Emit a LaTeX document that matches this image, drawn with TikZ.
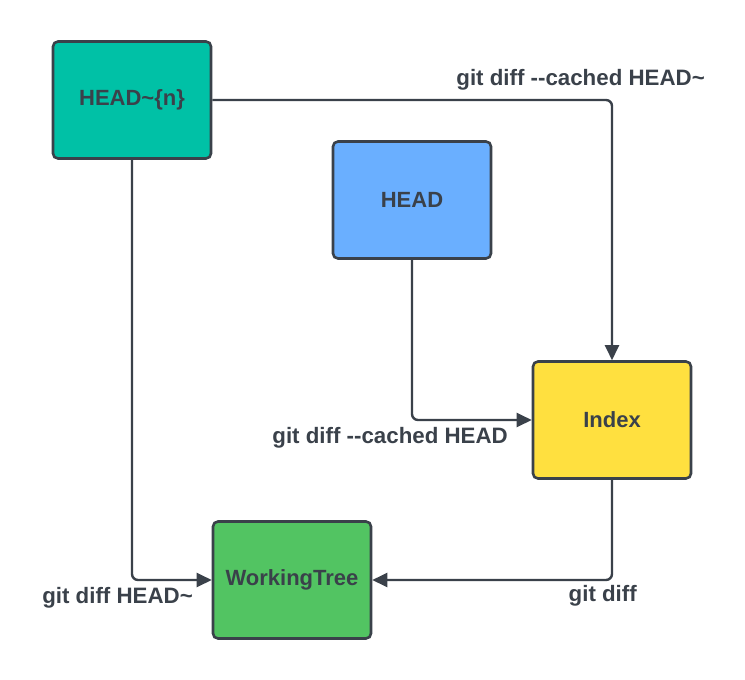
\documentclass[tikz,border=0pt]{standalone}
\usepackage{fontspec}
\setmainfont{Liberation Sans}
\usetikzlibrary{arrows.meta}
\definecolor{ink}{HTML}{3A414A}
\definecolor{teal}{HTML}{00C1A6}
\definecolor{blu}{HTML}{6AAFFF}
\definecolor{yel}{HTML}{FFE03F}
\definecolor{grn}{HTML}{52C462}
\tikzset{
  box/.style={draw=ink, line width=2.6pt, rounded corners=5pt, minimum width=158pt, minimum height=117pt, inner sep=0pt, font=\fontsize{22}{24}\selectfont\bfseries, text=ink},
  conn/.style={draw=ink, line width=2.4pt, rounded corners=6pt, -{Triangle[length=15pt,width=14pt]}},
  lbl/.style={font=\fontsize{22.3}{24}\selectfont\bfseries, text=ink, inner sep=0pt}
}
\begin{document}
\begin{tikzpicture}[x=1pt,y=-1pt]
\useasboundingbox (0,0) rectangle (745,680);
\node[box, fill=teal] (hn) at (132,100) {HEAD\textasciitilde\{n\}};
\node[box, fill=blu] (head) at (412,200) {HEAD};
\node[box, fill=yel] (idx) at (612,420) {Index};
\node[box, fill=grn] (wt) at (292,580) {WorkingTree};
\draw[conn] (hn.east) -- (idx.north |- hn.east) -- (idx.north);
\draw[conn] (head.south) -- (head.south |- idx.west) -- (idx.west);
\draw[conn] (hn.south) -- (hn.south |- wt.west) -- (wt.west);
\draw[conn] (idx.south) -- (idx.south |- wt.east) -- (wt.east);
\node[lbl, anchor=east] (l1) at (705,80) {git diff -{}-cached HEAD\textasciitilde};
\node[lbl, anchor=east] (l2) at (508,438) {git diff -{}-cached HEAD};
\node[lbl, anchor=east] (l3) at (193,598) {git diff HEAD\textasciitilde};
\node[lbl, anchor=east] (l4) at (637,596) {git diff};
\end{tikzpicture}
\end{document}
